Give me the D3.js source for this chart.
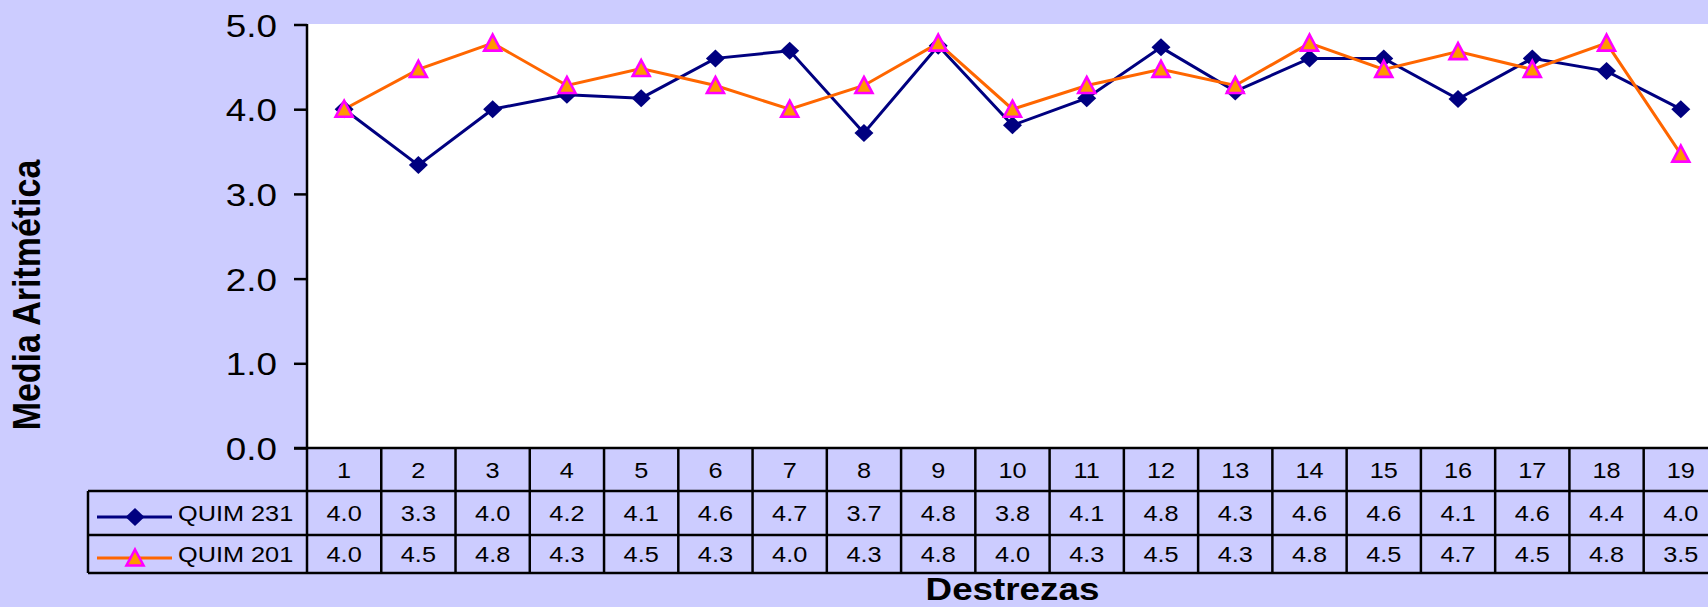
<!DOCTYPE html>
<html>
<head>
<meta charset="utf-8">
<script src="https://cdn.jsdelivr.net/npm/d3@7"></script>
<style>
  html, body { margin: 0; padding: 0; background: #ccccff; overflow: hidden; }
  svg { display: block; font-family: "Liberation Sans", Arial, sans-serif; }
</style>
</head>
<body>
<svg id="chart" width="1708" height="607"></svg>
<script>
// Chart data
const destrezas = ['1', '2', '3', '4', '5', '6', '7', '8', '9', '10',
                   '11', '12', '13', '14', '15', '16', '17', '18', '19'];
const quim231 = [4.0, 3.34, 4.0, 4.17, 4.13, 4.6, 4.69, 3.72, 4.75, 3.81,
                 4.13, 4.73, 4.21, 4.6, 4.6, 4.12, 4.6, 4.45, 4.0];
const quim201 = [4.0, 4.47, 4.78, 4.28, 4.48, 4.28, 4.0, 4.28, 4.78, 4.0,
                 4.28, 4.47, 4.28, 4.78, 4.47, 4.68, 4.47, 4.78, 3.47];
// values as printed in the data table under the chart
const quim231Labels = ['4.0', '3.3', '4.0', '4.2', '4.1', '4.6', '4.7', '3.7', '4.8', '3.8',
                       '4.1', '4.8', '4.3', '4.6', '4.6', '4.1', '4.6', '4.4', '4.0'];
const quim201Labels = ['4.0', '4.5', '4.8', '4.3', '4.5', '4.3', '4.0', '4.3', '4.8', '4.0',
                       '4.3', '4.5', '4.3', '4.8', '4.5', '4.7', '4.5', '4.8', '3.5'];
const yTicks = [0, 1, 2, 3, 4, 5];

const series = [
  { name: 'QUIM 231', values: quim231, labels: quim231Labels, line: '#000080', marker: 'diamond' },
  { name: 'QUIM 201', values: quim201, labels: quim201Labels, line: '#ff6600', marker: 'triangle' }
];

// ---------------------------------------------------------------------------
// Layout
// ---------------------------------------------------------------------------
const SX = 1.15;            // text in the original is stretched horizontally
const plotL = 307, plotT = 24, plotB = 448;
const cellW = 74.26;
const plotR = plotL + cellW * destrezas.length;
const rowY = [448, 491, 535, 573];   // table row boundaries
const legendL = 88;

const svg = d3.select('#chart');

const x = d3.scaleBand().domain(destrezas).range([plotL, plotR]);
const y = d3.scaleLinear().domain([0, 5]).range([plotB, plotT + 0.5]);

// plot area
svg.append('rect')
  .attr('x', plotL).attr('y', plotT)
  .attr('width', plotR - plotL).attr('height', plotB - plotT)
  .attr('fill', '#fff');

// y axis
const yAxis = svg.append('g')
  .attr('transform', `translate(${plotL},0)`)
  .call(d3.axisLeft(y).tickValues(yTicks).tickFormat(d3.format('.1f')).tickSize(13).tickSizeOuter(0));
yAxis.select('.domain').remove();
yAxis.selectAll('.tick line').attr('stroke', '#000').attr('stroke-width', 2.5);
yAxis.selectAll('.tick text')
  .attr('x', -30 / SX).attr('dy', '0.36em')
  .attr('transform', `scale(${SX},1)`)
  .attr('font-size', 32).attr('fill', '#000')
  .attr('font-family', '"Liberation Sans", Arial, sans-serif');
svg.append('line')
  .attr('x1', plotL).attr('x2', plotL).attr('y1', plotT).attr('y2', rowY[3])
  .attr('stroke', '#000').attr('stroke-width', 2.5);

// ---------------------------------------------------------------------------
// Lines and markers
// ---------------------------------------------------------------------------
const cx = (d, i) => x(destrezas[i]) + x.bandwidth() / 2;

function marker(g, type, px, py) {
  if (type === 'diamond') {
    g.append('path')
      .attr('d', `M${px},${py - 9}L${px + 9.5},${py}L${px},${py + 9}L${px - 9.5},${py}Z`)
      .attr('fill', '#000080');
  } else {
    g.append('path')
      .attr('d', `M${px},${py - 8.5}L${px + 8.5},${py + 7.5}L${px - 8.5},${py + 7.5}Z`)
      .attr('fill', '#ff9900').attr('stroke', '#ff00ff').attr('stroke-width', 2.6)
      .attr('stroke-linejoin', 'miter');
  }
}

for (const s of series) {
  const line = d3.line().x(cx).y(d => y(d));
  svg.append('path')
    .attr('d', line(s.values))
    .attr('fill', 'none').attr('stroke', s.line).attr('stroke-width', 3);
}
for (const s of series) {
  const g = svg.append('g');
  s.values.forEach((v, i) => marker(g, s.marker, cx(v, i), y(v)));
}

// ---------------------------------------------------------------------------
// Data table
// ---------------------------------------------------------------------------
const tbl = svg.append('g').attr('stroke', '#000').attr('stroke-width', 2.5);
tbl.append('line').attr('x1', plotL - 13).attr('x2', plotR).attr('y1', rowY[0]).attr('y2', rowY[0]);
for (const ry of rowY.slice(1)) {
  tbl.append('line').attr('x1', legendL).attr('x2', plotR).attr('y1', ry).attr('y2', ry);
}
tbl.append('line').attr('x1', legendL).attr('x2', legendL).attr('y1', rowY[1]).attr('y2', rowY[3]);
destrezas.forEach(d => {
  const bx = x(d) + x.bandwidth();
  tbl.append('line').attr('x1', bx).attr('x2', bx).attr('y1', rowY[0]).attr('y2', rowY[3]);
});

function cellText(txt, px, py, size, anchor = 'middle', weight = 'normal') {
  svg.append('text')
    .attr('transform', `translate(${px},${py}) scale(${SX},1)`)
    .attr('text-anchor', anchor)
    .attr('font-size', size).attr('font-weight', weight)
    .attr('fill', '#000')
    .text(txt);
}

const mid = (a, b) => (a + b) / 2;
destrezas.forEach(d => {
  cellText(d, x(d) + x.bandwidth() / 2, mid(rowY[0], rowY[1]) + 8, 22);
});
series.forEach((s, r) => {
  const cy = mid(rowY[r + 1], rowY[r + 2]);
  s.labels.forEach((lab, i) => {
    cellText(lab, x(destrezas[i]) + x.bandwidth() / 2, cy + 8, 22);
  });
  // legend key
  svg.append('line')
    .attr('x1', 97).attr('x2', 172).attr('y1', cy + 4).attr('y2', cy + 4)
    .attr('stroke', s.line).attr('stroke-width', 3);
  marker(svg, s.marker, 135, cy + 4);
  cellText(s.name, 178, cy + 8, 22, 'start');
});

// ---------------------------------------------------------------------------
// Axis titles
// ---------------------------------------------------------------------------
cellText('Destrezas', mid(plotL, plotR), 600, 32, 'middle', 'bold');
svg.append('text')
  .attr('transform', `translate(40,295) scale(${SX},1) rotate(-90)`)
  .attr('text-anchor', 'middle')
  .attr('font-size', 34).attr('font-weight', 'bold')
  .attr('fill', '#000')
  .text('Media Aritmética');
</script>
</body>
</html>
